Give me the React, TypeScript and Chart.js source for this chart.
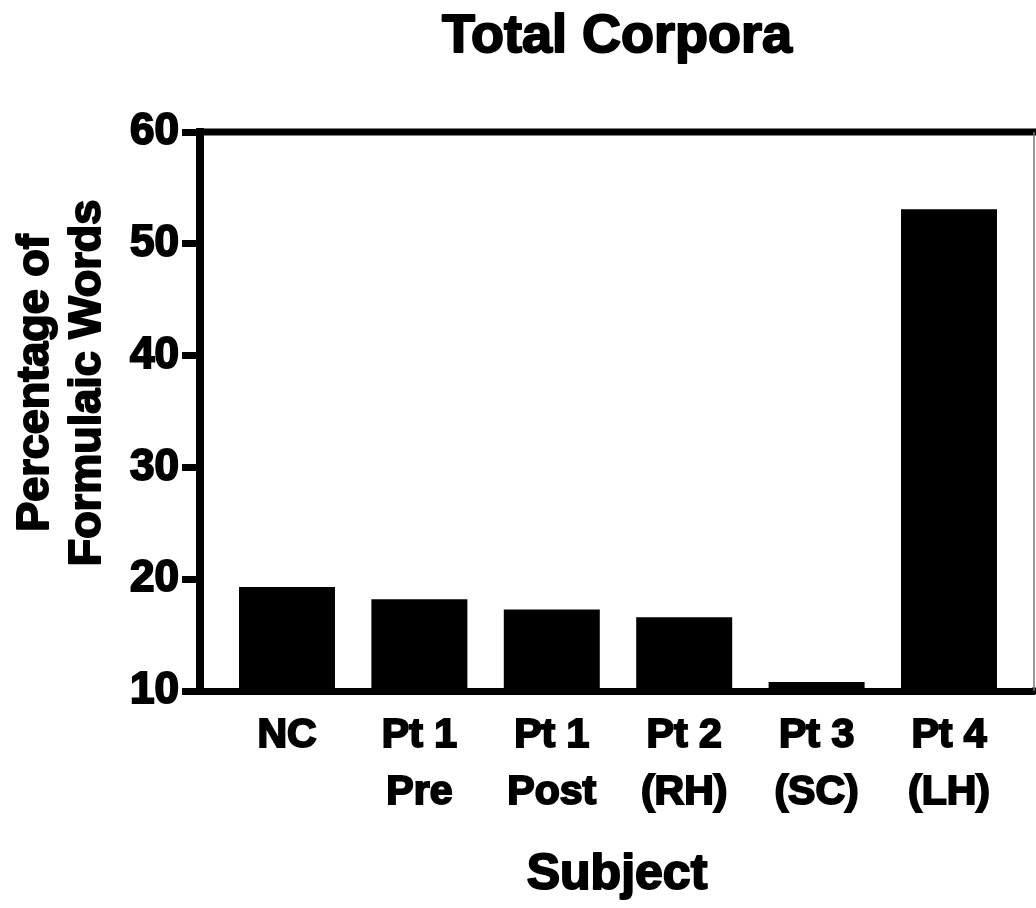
import React, { useEffect, useRef } from "react";
import { Chart, registerables } from "chart.js";

Chart.register(...registerables);

const chartTitle = "Total Corpora";
const yAxisTitle = ["Percentage of", "Formulaic Words"];
const xAxisTitle = "Subject";
const subjects: string[][] = [
  ["NC"],
  ["Pt 1", "Pre"],
  ["Pt 1", "Post"],
  ["Pt 2", "(RH)"],
  ["Pt 3", "(SC)"],
  ["Pt 4", "(LH)"],
];
const percentages = [19.3, 18.2, 17.3, 16.6, 10.8, 53.1];
const yMin = 10;
const yMax = 60;
const yStep = 10;

const FONT = "'Liberation Sans', Arial, Helvetica, sans-serif";

function heavyText(ctx: any, text: string, x: number, y: number) {
  ctx.strokeText(text, x, y);
  ctx.fillText(text, x, y);
}

const framePlugin = {
  id: "frameAndTitles",
  afterDraw(chart: any) {
    const { ctx, chartArea, width } = chart;
    ctx.save();
    // top frame line
    ctx.strokeStyle = "#000";
    ctx.lineWidth = 7;
    ctx.beginPath();
    ctx.moveTo(chartArea.left, chartArea.top);
    ctx.lineTo(width, chartArea.top);
    ctx.stroke();
    // bottom extension
    ctx.beginPath();
    ctx.moveTo(chartArea.right - 2, chartArea.bottom);
    ctx.lineTo(width, chartArea.bottom);
    ctx.stroke();
    // thin right line
    ctx.strokeStyle = "#777";
    ctx.lineWidth = 1.5;
    ctx.beginPath();
    ctx.moveTo(chartArea.right, chartArea.top);
    ctx.lineTo(chartArea.right, chartArea.bottom);
    ctx.stroke();

    const cx = (chartArea.left + chartArea.right) / 2;
    ctx.fillStyle = "#000";
    ctx.strokeStyle = "#000";
    ctx.lineWidth = 2;
    ctx.lineJoin = "round";
    ctx.textAlign = "center";
    ctx.textBaseline = "alphabetic";

    // chart title
    ctx.font = `bold 54px ${FONT}`;
    heavyText(ctx, chartTitle, cx, 52);

    // x-axis title
    ctx.font = `bold 50px ${FONT}`;
    heavyText(ctx, xAxisTitle, cx, 889);

    // y-axis title
    ctx.font = `bold 45px ${FONT}`;
    ctx.translate(0, 383);
    ctx.rotate(-Math.PI / 2);
    heavyText(ctx, yAxisTitle[0], 0, 48);
    heavyText(ctx, yAxisTitle[1], 0, 100);
    ctx.restore();
  },
};

export default function App() {
  const canvasRef = useRef<HTMLCanvasElement | null>(null);

  useEffect(() => {
    if (!canvasRef.current) return;
    const chart = new Chart(canvasRef.current, {
      type: "bar",
      data: {
        datasets: [
          {
            data: percentages.map((v, i) => ({ x: i, y: v })),
            backgroundColor: "#000",
            borderWidth: 0,
            barPercentage: 0.725,
            categoryPercentage: 1,
          },
        ],
      },
      options: {
        animation: false,
        responsive: false,
        devicePixelRatio: 1,
        layout: { padding: { top: 132, right: 2, left: 0, bottom: 0 } },
        plugins: {
          legend: { display: false },
          title: { display: false },
          tooltip: { enabled: false },
        },
        scales: {
          x: {
            type: "linear",
            offset: false,
            min: -0.657,
            max: 5.642,
            afterBuildTicks: (scale: any) => {
              scale.ticks = subjects.map((_, i) => ({ value: i }));
            },
            afterFit: (scale: any) => {
              scale.height = 217;
            },
            grid: { display: true, drawOnChartArea: false, drawTicks: false },
            border: { display: true, width: 7, color: "#000" },
            ticks: {
              autoSkip: false,
              maxRotation: 0,
              minRotation: 0,
              padding: 16,
              color: "#000",
              textStrokeColor: "#000",
              textStrokeWidth: 2,
              font: { family: FONT, size: 41, weight: "bold", lineHeight: 1.39 },
              callback: (value: any) => subjects[Number(value)] ?? "",
            },
            title: { display: false },
          },
          y: {
            min: yMin,
            max: yMax,
            beginAtZero: false,
            afterFit: (scale: any) => {
              scale.width = 200;
            },
            grid: {
              display: true,
              drawOnChartArea: false,
              drawTicks: true,
              tickLength: 18,
              lineWidth: 7,
              color: "#000",
            },
            border: { display: true, width: 8, color: "#000" },
            ticks: {
              stepSize: yStep,
              padding: 3,
              color: "#000",
              textStrokeColor: "#000",
              textStrokeWidth: 2,
              font: { family: FONT, size: 44, weight: "bold" },
            },
          },
        },
      },
      plugins: [framePlugin],
    } as any);
    return () => chart.destroy();
  }, []);

  return (
    <div style={{ position: "absolute", left: 0, top: 0, width: 1036, height: 908, background: "#fff" }}>
      <canvas ref={canvasRef} width={1036} height={908} />
    </div>
  );
}
